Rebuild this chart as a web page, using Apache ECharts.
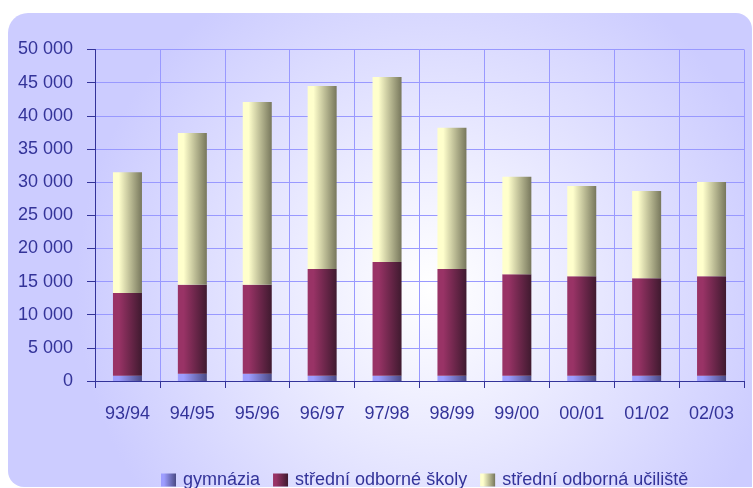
<!DOCTYPE html>
<html>
<head>
<meta charset="utf-8">
<script src="https://cdn.jsdelivr.net/npm/echarts@6/dist/echarts.min.js"></script>
<style>
  html, body { margin: 0; padding: 0; background: #fff; }
  #chart { width: 753px; height: 488px; }
</style>
</head>
<body>
<div id="chart"></div>
<script>
var categories = ['93/94', '94/95', '95/96', '96/97', '97/98', '98/99', '99/00', '00/01', '01/02', '02/03'];
var seriesNames = ['gymnázia', 'střední odborné školy', 'střední odborná učiliště'];
var gymnazia = [800, 1100, 1100, 800, 800, 800, 800, 800, 800, 800];
var stredniSkoly = [12470, 13400, 13400, 16100, 17150, 16100, 15300, 15000, 14700, 15000];
var ucilste = [18230, 22900, 27600, 27600, 27900, 21300, 14700, 13600, 13150, 14200];

var textColor = '#333399';

function barGrad(light, dark) {
  // svetla leva strana, tmava prava - vzhled valce
  return new echarts.graphic.LinearGradient(0, 0, 1, 0, [
    { offset: 0, color: light },
    { offset: 0.2, color: light },
    { offset: 1, color: dark }
  ]);
}

var chart = echarts.init(document.getElementById('chart'));

var option = {
  animation: false,
  textStyle: { fontFamily: 'Liberation Sans, Arial, sans-serif' },
  graphic: [{
    type: 'rect',
    z: -10,
    silent: true,
    shape: { x: 8, y: 13, width: 744, height: 474, r: [20, 16, 0, 16] },
    style: {
      fill: new echarts.graphic.RadialGradient(0.57, 0.58, 0.75, [
        { offset: 0, color: '#ffffff' },
        { offset: 0.15, color: '#f8f8ff' },
        { offset: 1, color: '#ccccff' }
      ])
    }
  }],
  grid: {
    left: 95,
    top: 49.5,
    right: 9,
    bottom: 107,
    containLabel: false
  },
  legend: {
    data: seriesNames,
    left: 156,
    top: 466,
    itemWidth: 15,
    itemHeight: 13,
    itemGap: 13,
    icon: 'rect',
    textStyle: { color: textColor, fontSize: 18, fontFamily: 'Liberation Sans, Arial, sans-serif', padding: [0, 0, 0, 2] }
  },
  xAxis: {
    type: 'category',
    data: categories,
    axisLine: { lineStyle: { color: textColor, width: 1 } },
    axisTick: { show: true, length: 7, lineStyle: { color: textColor } },
    axisLabel: { color: textColor, fontSize: 18, margin: 24 },
    splitLine: { show: true, lineStyle: { color: '#9999ff', width: 1 } }
  },
  yAxis: {
    type: 'value',
    min: 0,
    max: 50000,
    interval: 5000,
    axisLine: { show: true, lineStyle: { color: textColor, width: 1 } },
    axisTick: { show: true, length: 8, lineStyle: { color: textColor } },
    axisLabel: {
      color: textColor,
      fontSize: 18,
      margin: 22,
      formatter: function (v) {
        return String(v).replace(/\B(?=(\d{3})+(?!\d))/g, ' ');
      }
    },
    splitLine: { lineStyle: { color: '#9999ff', width: 1 } }
  },
  series: [{
    name: seriesNames[0],
    type: 'bar',
    stack: 'celkem',
    barWidth: 29,
    data: gymnazia,
    itemStyle: { color: barGrad('#9d9dff', '#4a4a85') }
  }, {
    name: seriesNames[1],
    type: 'bar',
    stack: 'celkem',
    barWidth: 29,
    data: stredniSkoly,
    itemStyle: { color: barGrad('#993366', '#3f1a2f') }
  }, {
    name: seriesNames[2],
    type: 'bar',
    stack: 'celkem',
    barWidth: 29,
    data: ucilste,
    itemStyle: { color: barGrad('#ffffcc', '#77775c') }
  }]
};

chart.setOption(option);
</script>
</body>
</html>
